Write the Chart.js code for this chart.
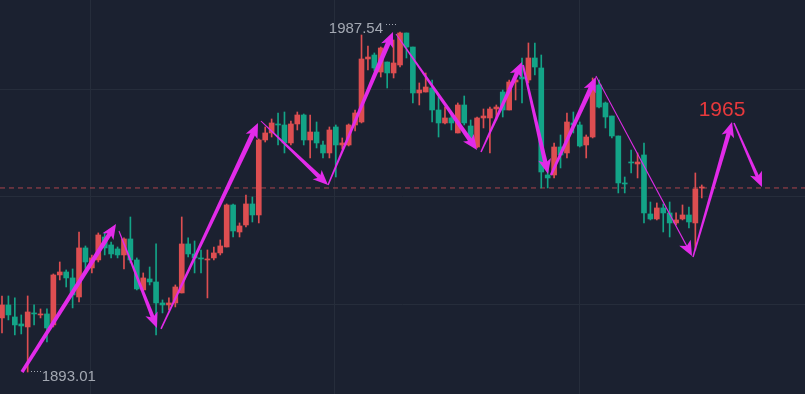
<!DOCTYPE html>
<html>
<head>
<meta charset="utf-8">
<script src="https://cdn.jsdelivr.net/npm/chart.js@4.4.1/dist/chart.umd.min.js"></script>
<style>
  html, body { margin: 0; padding: 0; background: #1b2130; overflow: hidden; }
  #wrap { width: 805px; height: 394px; }
</style>
</head>
<body>
<div id="wrap"><canvas id="chart" width="805" height="394"></canvas></div>
<script>
// candles, left to right
const opens = [
  1908.04, 1911.65, 1908.31, 1906.37, 1905.53, 1909.43, 1908.87, 1909.15, 1906.09, 1919.99,
  1920.82, 1919.16, 1913.87, 1927.50, 1921.94, 1924.16, 1930.55, 1928.33, 1927.22, 1925.55,
  1930.00, 1924.16, 1915.82, 1918.88, 1918.04, 1912.21, 1911.65, 1912.21, 1914.99, 1928.61,
  1925.83, 1924.72, 1924.16, 1924.72, 1926.11, 1927.77, 1939.45, 1931.94, 1933.89, 1939.73,
  1936.67, 1957.52, 1959.47, 1961.97, 1961.69, 1956.69, 1961.97, 1964.47, 1957.52, 1959.74,
  1956.13, 1953.91, 1961.13, 1956.13, 1956.13, 1961.69, 1962.52, 1980.04, 1981.15, 1976.42,
  1979.20, 1976.15, 1978.37, 1987.27, 1983.37, 1970.59, 1970.86, 1971.98, 1965.86, 1962.25,
  1963.64, 1959.47, 1967.25, 1961.41, 1955.57, 1963.64, 1963.64, 1966.14, 1970.86, 1965.86,
  1973.64, 1975.03, 1974.20, 1980.32, 1977.54, 1947.79, 1947.79, 1955.57, 1953.91, 1962.25,
  1961.69, 1956.13, 1958.35, 1972.81, 1967.81, 1964.19, 1958.63, 1945.57, 1951.40, 1950.85,
  1953.35, 1936.95, 1935.56, 1938.62, 1937.23, 1934.45, 1935.56, 1936.67, 1934.45, 1944.18
];
const highs = [
  1914.15, 1914.15, 1913.60, 1908.87, 1914.15, 1911.65, 1910.54, 1910.54, 1920.27, 1923.60,
  1921.38, 1921.66, 1931.94, 1928.05, 1925.55, 1931.67, 1931.67, 1929.16, 1927.77, 1930.28,
  1936.11, 1924.72, 1920.55, 1922.21, 1928.61, 1913.04, 1913.60, 1917.21, 1936.11, 1930.28,
  1929.44, 1926.94, 1926.94, 1927.77, 1929.72, 1939.73, 1939.73, 1934.45, 1942.23, 1941.67,
  1957.80, 1961.13, 1963.36, 1965.03, 1965.30, 1962.80, 1965.30, 1964.75, 1964.47, 1962.52,
  1957.24, 1961.13, 1961.69, 1958.08, 1961.97, 1965.86, 1986.71, 1983.65, 1981.71, 1983.37,
  1979.20, 1985.32, 1987.54, 1987.27, 1983.37, 1973.37, 1976.15, 1974.20, 1969.47, 1966.69,
  1964.47, 1967.81, 1969.75, 1963.08, 1963.91, 1966.14, 1966.69, 1967.25, 1971.42, 1974.20,
  1976.98, 1980.32, 1984.49, 1984.49, 1981.15, 1949.74, 1956.69, 1958.91, 1965.03, 1965.30,
  1962.52, 1958.91, 1974.76, 1974.20, 1968.08, 1964.19, 1958.63, 1947.23, 1954.74, 1953.91,
  1956.69, 1940.28, 1940.01, 1939.73, 1940.28, 1937.23, 1939.45, 1938.89, 1948.35, 1945.01
];
const lows = [
  1903.87, 1907.48, 1903.31, 1903.59, 1893.01, 1906.09, 1908.04, 1901.36, 1905.53, 1918.60,
  1916.65, 1910.82, 1912.48, 1920.82, 1920.55, 1923.60, 1925.55, 1924.72, 1924.72, 1921.66,
  1923.33, 1915.82, 1915.54, 1917.21, 1903.31, 1909.43, 1910.26, 1911.09, 1914.99, 1924.99,
  1920.55, 1920.55, 1913.60, 1924.16, 1925.55, 1927.77, 1930.55, 1930.55, 1933.33, 1934.72,
  1934.45, 1956.96, 1958.35, 1956.13, 1953.91, 1956.13, 1960.30, 1956.13, 1952.52, 1955.30,
  1952.52, 1952.52, 1947.23, 1955.02, 1955.85, 1960.02, 1962.25, 1976.98, 1976.70, 1975.03,
  1971.98, 1974.76, 1977.81, 1980.32, 1967.81, 1967.25, 1970.86, 1962.52, 1958.35, 1961.97,
  1960.30, 1959.47, 1961.69, 1956.69, 1955.30, 1960.86, 1953.91, 1963.08, 1963.91, 1965.86,
  1968.64, 1967.81, 1973.37, 1975.59, 1944.18, 1944.18, 1946.96, 1949.74, 1952.52, 1959.47,
  1955.57, 1952.52, 1958.08, 1966.42, 1960.86, 1958.08, 1942.79, 1942.79, 1948.35, 1946.96,
  1934.45, 1935.28, 1935.28, 1931.94, 1930.55, 1933.89, 1935.28, 1933.06, 1926.94, 1941.40
];
const closes = [
  1911.65, 1908.87, 1906.09, 1905.81, 1909.70, 1909.15, 1909.15, 1905.26, 1919.99, 1920.82,
  1919.16, 1914.43, 1927.50, 1923.60, 1924.72, 1931.11, 1927.50, 1925.83, 1925.55, 1930.00,
  1924.16, 1916.10, 1919.16, 1918.04, 1912.21, 1911.65, 1912.21, 1916.65, 1928.61, 1925.83,
  1924.72, 1924.44, 1924.44, 1926.11, 1928.05, 1939.45, 1932.22, 1933.61, 1939.73, 1936.67,
  1957.52, 1959.47, 1962.25, 1961.69, 1956.69, 1961.97, 1964.47, 1957.52, 1959.74, 1956.69,
  1953.91, 1960.30, 1956.13, 1956.69, 1961.69, 1965.03, 1980.04, 1980.59, 1977.54, 1983.10,
  1976.15, 1978.93, 1987.27, 1983.37, 1970.59, 1971.42, 1972.25, 1965.86, 1962.25, 1963.64,
  1962.25, 1967.25, 1962.25, 1957.52, 1963.64, 1964.19, 1966.14, 1966.69, 1965.86, 1973.64,
  1974.20, 1974.48, 1980.32, 1977.81, 1948.62, 1946.96, 1955.57, 1953.35, 1962.52, 1961.69,
  1955.85, 1958.35, 1972.53, 1966.69, 1963.91, 1958.63, 1945.57, 1945.29, 1951.13, 1951.40,
  1937.23, 1935.56, 1938.62, 1937.23, 1934.45, 1935.28, 1936.67, 1934.72, 1943.90, 1944.45
];

const lastPrice = 1944.18;
const lowMark = { index: 4, text: '1893.01' };
const highMark = { index: 62, text: '1987.54' };
const targetLabel = { x: 112.15, y: 1965.83, text: '1965' };

// hand drawn arrows: [candle index, price]
const arrowFrom = [
  [3.12, 1893.01], [18.22, 1932.22], [24.77, 1904.98], [40.34, 1962.80],
  [50.78, 1945.01], [61.37, 1986.99], [74.61, 1954.18], [81.15, 1978.37],
  [85.51, 1947.79], [92.52, 1975.31], [107.63, 1924.99], [114.02, 1962.25]
];
const arrowTo = [
  [17.76, 1934.17], [24.14, 1905.26], [39.88, 1962.25], [50.78, 1945.01],
  [60.90, 1987.54], [73.99, 1954.74], [81.00, 1979.20], [85.05, 1948.07],
  [92.52, 1975.03], [107.48, 1925.27], [113.71, 1962.52], [118.38, 1944.45]
];

const gridPrices = [1911.65, 1941.67, 1971.42];
const gridSlots = [13.71, 51.87, 89.88];

const RED = '#dd4e51';
const GREEN = '#13a487';
const MAGENTA = '#e22be9';
const arrowW0 = [3.5, 1, 1.5, 1, 1.5, 1, 1.5, 2, 2.5, 1, 1.5, 1.5];
const arrowW1 = [4.5, 4, 5, 4.5, 5, 4.5, 4.5, 4.5, 5, 1.2, 4.5, 3.5];

const isUp = i => closes[i] >= opens[i];
const candleColor = ctx => isUp(ctx.dataIndex) ? RED : GREEN;

const arrowSets = arrowFrom.map((p, i) => ({
    type: 'line',
    data: [{ x: p[0], y: p[1] }, { x: arrowTo[i][0], y: arrowTo[i][1] }],
    showLine: false,
    pointRadius: 0,
    arrow: { w0: arrowW0[i], w1: arrowW1[i] },
    order: 0
}));

const arrowPlugin = {
    id: 'arrows',
    afterDatasetsDraw(chart) {
        const ctx = chart.ctx;
        ctx.save();
        ctx.fillStyle = MAGENTA;
        chart.data.datasets.forEach((ds, di) => {
            if (!ds.arrow) return;
            const pts = chart.getDatasetMeta(di).data;
            const a = pts[0], b = pts[1];
            const dx = b.x - a.x, dy = b.y - a.y;
            const len = Math.hypot(dx, dy);
            const ux = dx / len, uy = dy / len;
            const nx = -uy, ny = ux;
            const headL = 15, headW = 6.5;
            const ex = b.x - ux * headL * 0.6, ey = b.y - uy * headL * 0.6;
            const w0 = ds.arrow.w0 / 2, w1 = ds.arrow.w1 / 2;

            // tapered shaft
            ctx.beginPath();
            ctx.moveTo(a.x + nx * w0, a.y + ny * w0);
            ctx.lineTo(ex + nx * w1, ey + ny * w1);
            ctx.lineTo(ex - nx * w1, ey - ny * w1);
            ctx.lineTo(a.x - nx * w0, a.y - ny * w0);
            ctx.closePath();
            ctx.fill();

            // head
            const bx = b.x - ux * headL, by = b.y - uy * headL;
            ctx.beginPath();
            ctx.moveTo(b.x, b.y);
            ctx.lineTo(bx + nx * headW, by + ny * headW);
            ctx.lineTo(b.x - ux * headL * 0.75, b.y - uy * headL * 0.75);
            ctx.lineTo(bx - nx * headW, by - ny * headW);
            ctx.closePath();
            ctx.fill();
        });
        ctx.restore();
    }
};

const dots = (ctx, x0, x1, y) => {
    for (let x = x0; x <= x1; x += 3) ctx.fillRect(Math.round(x), Math.round(y), 1, 1);
};

const labelPlugin = {
    id: 'labels',
    afterDraw(chart) {
        const { ctx, scales: { x, y } } = chart;
        ctx.save();
        ctx.font = '15px "Liberation Sans", Arial, sans-serif';
        ctx.fillStyle = '#a3a8b2';
        ctx.textBaseline = 'middle';

        // lowest low
        let px = x.getPixelForValue(lowMark.index);
        let py = y.getPixelForValue(lows[lowMark.index]);
        dots(ctx, px + 3, px + 12, py - 1);
        ctx.textAlign = 'left';
        ctx.fillText(lowMark.text, px + 14, py + 5);

        // highest high
        px = x.getPixelForValue(highMark.index);
        py = y.getPixelForValue(highs[highMark.index]);
        dots(ctx, px - 14, px - 3, py - 8);
        ctx.textAlign = 'right';
        ctx.fillText(highMark.text, px - 17, py - 3);

        // target price
        ctx.font = '21px "Liberation Sans", Arial, sans-serif';
        ctx.fillStyle = '#e8393c';
        ctx.textAlign = 'center';
        ctx.fillText(targetLabel.text, x.getPixelForValue(targetLabel.x), y.getPixelForValue(targetLabel.y));
        ctx.restore();
    }
};

const xMin = -0.31, xMax = 125.08;

const config = {
    type: 'bar',
    data: {
        datasets: [
            ...arrowSets,
            {
                type: 'bar',
                data: opens.map((o, i) => ({ x: i, y: [o, closes[i]] })),
                backgroundColor: candleColor,
                barThickness: 5,
                minBarLength: 1,
                grouped: false,
                order: 1
            },
            {
                type: 'bar',
                data: lows.map((l, i) => ({ x: i, y: [l, highs[i]] })),
                backgroundColor: candleColor,
                barThickness: 1,
                grouped: false,
                order: 2
            },
            {
                type: 'line',
                data: [{ x: xMin, y: lastPrice }, { x: xMax, y: lastPrice }],
                borderColor: 'rgba(206, 78, 82, 0.8)',
                borderWidth: 1,
                borderDash: [5, 4],
                pointRadius: 0,
                order: 3
            }
        ]
    },
    options: {
        responsive: false,
        animation: false,
        layout: { padding: 0 },
        plugins: {
            legend: { display: false },
            tooltip: { enabled: false }
        },
        scales: {
            x: {
                type: 'linear',
                min: xMin,
                max: xMax,
                offset: false,
                ticks: { display: false },
                border: { display: false },
                grid: { color: '#262d3b', drawTicks: false, offset: false },
                afterBuildTicks: scale => { scale.ticks = gridSlots.map(v => ({ value: v })); }
            },
            y: {
                type: 'linear',
                min: 1886.89,
                max: 1996.44,
                ticks: { display: false },
                border: { display: false },
                grid: { color: '#262d3b', drawTicks: false },
                afterBuildTicks: scale => { scale.ticks = gridPrices.map(v => ({ value: v })); }
            }
        }
    },
    plugins: [arrowPlugin, labelPlugin]
};

new Chart(document.getElementById('chart'), config);
</script>
</body>
</html>
